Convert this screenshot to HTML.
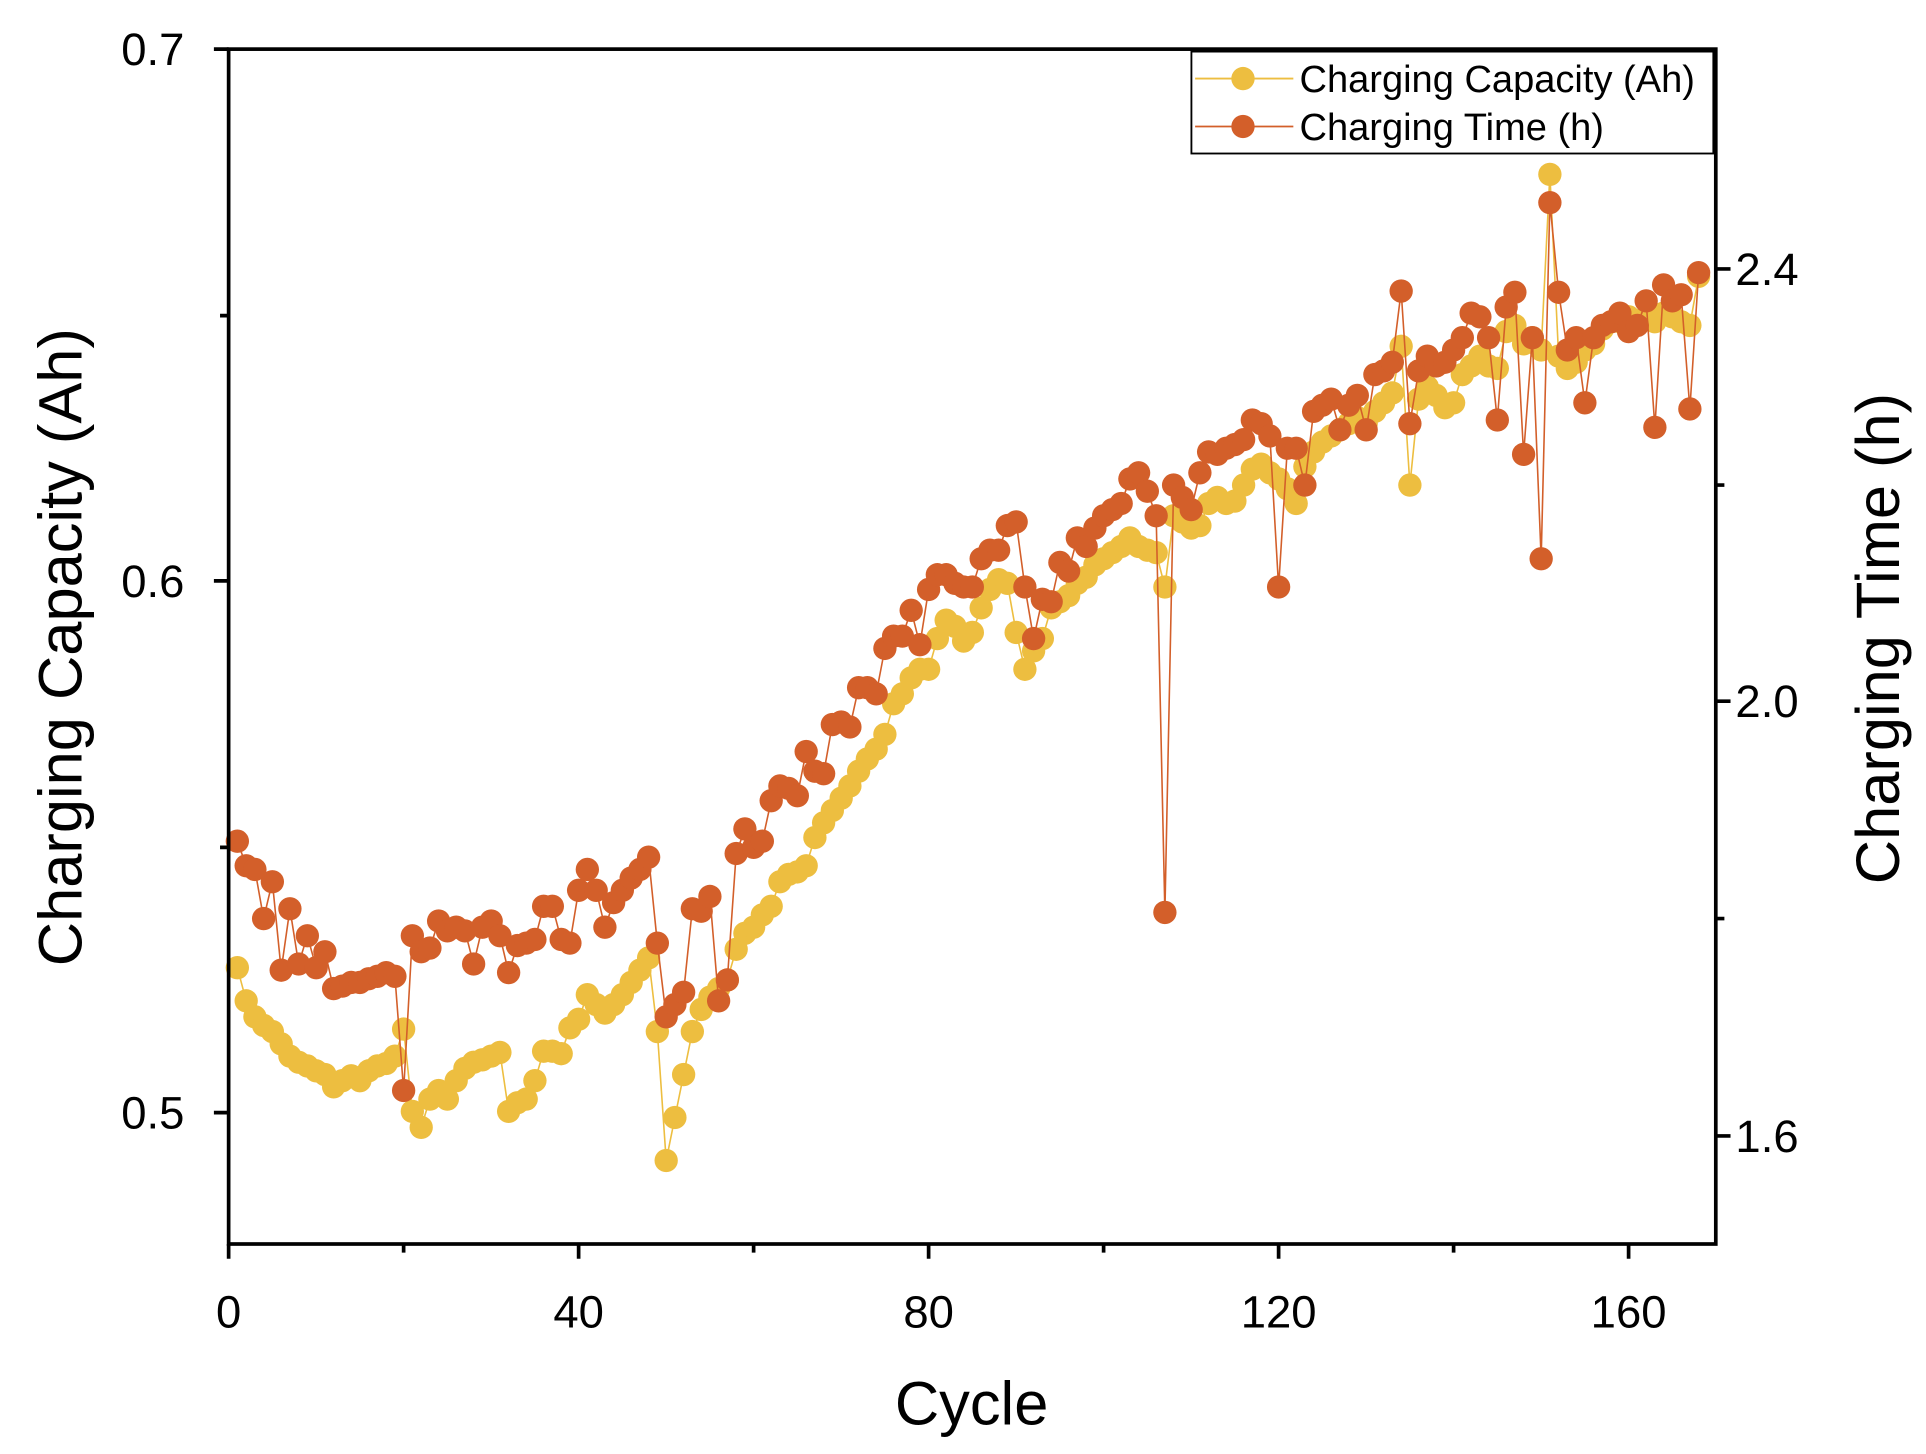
<!DOCTYPE html>
<html><head><meta charset="utf-8"><style>
html,body{margin:0;padding:0;background:#fff}
svg{display:block}
text{font-family:"Liberation Sans",Arial,sans-serif;fill:#000}
</style></head><body>
<svg id="s" width="1926" height="1454" viewBox="0 0 1568 1184" xmlns="http://www.w3.org/2000/svg">
<rect width="1568" height="1184" fill="#fff"/>
<g id="data"></g>
<g stroke="#000" stroke-width="3" fill="none">
<rect x="186" y="40" width="1211" height="973"/>
<path d="M174 40H186M174 473H186M174 906H186M179 257H186M179 690H186"/>
<path d="M1397 219H1409M1397 571H1409M1397 925H1409M1397 395H1404M1397 748H1404"/>
<path d="M186 1013V1025M471 1013V1025M756 1013V1025M1041 1013V1025M1326 1013V1025M328.5 1013V1020M613.5 1013V1020M898.5 1013V1020M1183.5 1013V1020"/>
</g>
<g font-size="37">
<text x="150" y="53" text-anchor="end">0.7</text>
<text x="150" y="486" text-anchor="end">0.6</text>
<text x="150" y="919" text-anchor="end">0.5</text>
<text x="1413" y="232">2.4</text>
<text x="1413" y="584">2.0</text>
<text x="1413" y="938">1.6</text>
<text x="186" y="1081" text-anchor="middle">0</text>
<text x="471" y="1081" text-anchor="middle">40</text>
<text x="756" y="1081" text-anchor="middle">80</text>
<text x="1041" y="1081" text-anchor="middle">120</text>
<text x="1326" y="1081" text-anchor="middle">160</text>
</g>
<text x="791" y="1160" font-size="50" text-anchor="middle">Cycle</text>
<text transform="translate(66,527) rotate(-90)" font-size="50" text-anchor="middle">Charging Capacity (Ah)</text>
<text transform="translate(1546,520) rotate(-90)" font-size="50" text-anchor="middle">Charging Time (h)</text>
<g>
<rect x="970" y="42" width="425" height="83" fill="#fff" stroke="#000" stroke-width="1.5"/>
<line x1="973" y1="64" x2="1053" y2="64" stroke="#EDBE40" stroke-width="1.5"/>
<circle cx="1012" cy="64" r="9.5" fill="#EDBE40"/>
<line x1="973" y1="103" x2="1053" y2="103" stroke="#D35F2A" stroke-width="1.5"/>
<circle cx="1012" cy="103" r="9.5" fill="#D35F2A"/>
<text x="1058" y="75" font-size="31">Charging Capacity (Ah)</text>
<text x="1058" y="114" font-size="31">Charging Time (h)</text>
</g>
</svg>
<script>
var Y=[788,815,828,835,840,850,860,865,868,872,875,885,880,876,880,872,868,866,860,838,905,918,895,888,895,880,870,865,863,860,857,905,898,895,880,856,856,858,837,830,810,818,825,818,810,800,790,780,840,945,910,875,840,822,812,805,798,773,760,755,745,738,718,712,710,705,682,670,660,650,640,628,618,610,598,573,565,552,545,545,520,505,510,522,515,495,480,472,475,515,545,530,520,495,490,485,475,470,460,455,450,445,438,445,448,450,478,420,425,430,428,410,405,410,408,395,382,378,385,390,398,410,380,368,360,355,350,345,340,345,335,328,320,282,395,325,315,322,332,328,305,298,290,298,300,270,265,280,275,285,142,290,300,295,285,280,268,262,262,258,262,258,262,255,258,262,265,225];
var R=[685,705,708,748,718,790,740,785,762,788,775,805,803,800,800,797,795,792,795,888,762,775,772,750,758,755,758,785,755,750,762,792,770,768,765,738,738,765,768,725,708,725,755,735,725,715,708,698,768,828,818,808,740,742,730,815,798,695,675,690,685,652,640,642,648,612,628,630,590,588,592,560,560,565,528,518,518,497,525,480,468,468,475,478,478,455,448,448,428,425,478,520,488,490,458,465,438,445,430,420,415,410,390,385,400,420,743,395,405,415,385,368,370,365,362,358,342,345,355,478,365,365,395,335,330,325,350,330,322,350,305,302,295,237,345,302,290,298,295,285,275,255,258,275,342,250,238,370,275,455,165,238,285,275,328,275,265,262,255,270,265,245,348,232,245,240,333,222];
var g=document.getElementById('data'),h='';
function ser(a,c){var p='';for(var i=0;i<a.length;i++){p+=(i?'L':'M')+(186+7.125*(i+1)).toFixed(1)+' '+a[i];}
h+='<path d="'+p+'" fill="none" stroke="'+c+'" stroke-width="1.3"/>';
for(var i=0;i<a.length;i++)h+='<circle cx="'+(186+7.125*(i+1)).toFixed(1)+'" cy="'+a[i]+'" r="9.5" fill="'+c+'"/>';}
ser(Y,'#EDBE40');ser(R,'#D35F2A');
g.innerHTML=h;
</script>
</body></html>
